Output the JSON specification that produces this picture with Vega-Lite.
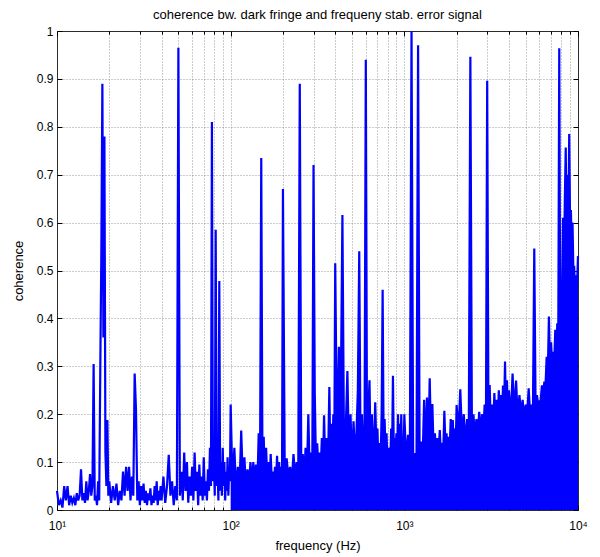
{
  "$schema": "https://vega.github.io/schema/vega-lite/v6.json",
  "width": 521,
  "height": 479,
  "autosize": {"type": "none"},
  "padding": {"left": 57, "top": 31, "right": 22, "bottom": 47},
  "background": "white",
  "config": {"view": {"stroke": "#333", "strokeWidth": 1}},
  "title": {"text": "coherence bw. dark fringe and frequeny stab. error signal", "font": "Liberation Sans", "fontSize": 13, "fontWeight": "normal", "color": "#000", "anchor": "middle", "frame": "group", "offset": 3},
  "data": {"values": [
    {"f":10,"c":0.04},{"f":10.25,"c":0.01},{"f":10.5,"c":0.02},{"f":10.75,"c":0.005},{"f":11,"c":0.05},{"f":11.25,"c":0.02},{"f":11.5,"c":0.05},{"f":11.75,"c":0.01},{"f":12,"c":0.03},{"f":12.25,"c":0.015},{"f":12.5,"c":0.025},{"f":12.75,"c":0.01},{"f":13,"c":0.035},{"f":13.25,"c":0.02},{"f":13.5,"c":0.03},{"f":13.75,"c":0.085},{"f":14,"c":0.02},{"f":14.25,"c":0.035},{"f":14.5,"c":0.015},{"f":14.75,"c":0.06},{"f":15,"c":0.02},{"f":15.25,"c":0.04},{"f":15.5,"c":0.075},{"f":15.75,"c":0.03},{"f":16,"c":0.05},{"f":16.25,"c":0.305},{"f":16.5,"c":0.02},{"f":16.75,"c":0.03},{"f":17,"c":0.01},{"f":17.25,"c":0.06},{"f":17.5,"c":0.02},{"f":17.75,"c":0.29},{"f":18,"c":0.535},{"f":18.25,"c":0.89},{"f":18.5,"c":0.36},{"f":18.75,"c":0.78},{"f":19,"c":0.12},{"f":19.25,"c":0.05},{"f":19.5,"c":0.188},{"f":19.75,"c":0.03},
    {"f":20,"c":0.06},{"f":20.5,"c":0.015},{"f":21,"c":0.05},{"f":21.5,"c":0.02},{"f":22,"c":0.055},{"f":22.5,"c":0.01},{"f":23,"c":0.04},{"f":23.5,"c":0.02},{"f":24,"c":0.08},{"f":24.5,"c":0.03},{"f":25,"c":0.09},{"f":25.5,"c":0.04},{"f":26,"c":0.09},{"f":26.5,"c":0.02},{"f":27,"c":0.07},{"f":27.5,"c":0.03},{"f":28,"c":0.285},{"f":28.5,"c":0.21},{"f":29,"c":0.02},{"f":29.5,"c":0.06},
    {"f":30,"c":0.01},{"f":30.5,"c":0.05},{"f":31,"c":0.02},{"f":31.5,"c":0.055},{"f":32,"c":0.015},{"f":32.5,"c":0.04},{"f":33,"c":0.01},{"f":33.5,"c":0.035},{"f":34,"c":0.02},{"f":34.5,"c":0.045},{"f":35,"c":0.01},{"f":35.5,"c":0.03},{"f":36,"c":0.015},{"f":36.5,"c":0.05},{"f":37,"c":0.02},{"f":37.5,"c":0.06},{"f":38,"c":0.01},{"f":38.5,"c":0.04},{"f":39,"c":0.02},{"f":39.5,"c":0.05},
    {"f":40,"c":0.02},{"f":41,"c":0.07},{"f":42,"c":0.015},{"f":43,"c":0.05},{"f":44,"c":0.115},{"f":45,"c":0.03},{"f":46,"c":0.06},{"f":47,"c":0.01},{"f":48,"c":0.05},{"f":49,"c":0.02},{"f":50,"c":0.965},{"f":51,"c":0.03},{"f":52,"c":0.08},{"f":53,"c":0.02},{"f":54,"c":0.12},{"f":55,"c":0.04},{"f":56,"c":0.1},{"f":57,"c":0.015},{"f":58,"c":0.07},{"f":59,"c":0.03},
    {"f":60,"c":0.09},{"f":61,"c":0.02},{"f":62,"c":0.12},{"f":63,"c":0.04},{"f":64,"c":0.08},{"f":65,"c":0.01},{"f":66,"c":0.095},{"f":67,"c":0.03},{"f":68,"c":0.07},{"f":69,"c":0.02},{"f":70,"c":0.11},{"f":71,"c":0.03},{"f":72,"c":0.06},{"f":73,"c":0.02},{"f":74,"c":0.085},{"f":75,"c":0.04},{"f":76,"c":0.13},{"f":77,"c":0.05},{"f":78,"c":0.81},{"f":79,"c":0.06},
    {"f":80,"c":0.1},{"f":81,"c":0.03},{"f":82,"c":0.585},{"f":83,"c":0.05},{"f":84,"c":0.09},{"f":85,"c":0.02},{"f":86,"c":0.478},{"f":87,"c":0.04},{"f":88,"c":0.1},{"f":89,"c":0.03},{"f":90,"c":0.13},{"f":91,"c":0.05},{"f":92,"c":0.1},{"f":93,"c":0.02},{"f":94,"c":0.08},{"f":95,"c":0.04},{"f":96,"c":0.11},{"f":97,"c":0.03},{"f":98,"c":0.09},{"f":99,"c":0.06},
    {"f":100,"c":0.22},{"f":102.5,"c":0.05},{"f":105,"c":0.13},{"f":107.5,"c":0.04},{"f":110,"c":0.09},{"f":112.5,"c":0.05},{"f":115,"c":0.166},{"f":117.5,"c":0.06},{"f":120,"c":0.11},{"f":122.5,"c":0.045},{"f":125,"c":0.085},{"f":127.5,"c":0.05},{"f":130,"c":0.1},{"f":132.5,"c":0.05},{"f":135,"c":0.1},{"f":137.5,"c":0.06},{"f":140,"c":0.095},{"f":142.5,"c":0.05},{"f":145,"c":0.16},{"f":147.5,"c":0.06},
    {"f":150,"c":0.735},{"f":152.5,"c":0.07},{"f":155,"c":0.153},{"f":157.5,"c":0.05},{"f":160,"c":0.13},{"f":162.5,"c":0.06},{"f":165,"c":0.1},{"f":167.5,"c":0.05},{"f":170,"c":0.117},{"f":172.5,"c":0.06},{"f":175,"c":0.08},{"f":177.5,"c":0.045},{"f":180,"c":0.09},{"f":182.5,"c":0.06},{"f":185,"c":0.113},{"f":187.5,"c":0.05},{"f":190,"c":0.1},{"f":192.5,"c":0.06},{"f":195,"c":0.09},{"f":197.5,"c":0.05},
    {"f":200,"c":0.67},{"f":205,"c":0.06},{"f":210,"c":0.108},{"f":215,"c":0.07},{"f":220,"c":0.09},{"f":225,"c":0.06},{"f":230,"c":0.117},{"f":235,"c":0.07},{"f":240,"c":0.1},{"f":245,"c":0.065},{"f":250,"c":0.89},{"f":255,"c":0.08},{"f":260,"c":0.117},{"f":265,"c":0.07},{"f":270,"c":0.13},{"f":275,"c":0.08},{"f":280,"c":0.2},{"f":285,"c":0.08},{"f":290,"c":0.12},{"f":295,"c":0.07},
    {"f":300,"c":0.72},{"f":305,"c":0.243},{"f":310,"c":0.09},{"f":315,"c":0.139},{"f":320,"c":0.08},{"f":325,"c":0.12},{"f":330,"c":0.085},{"f":335,"c":0.15},{"f":340,"c":0.09},{"f":345,"c":0.198},{"f":350,"c":0.1},{"f":355,"c":0.15},{"f":360,"c":0.09},{"f":365,"c":0.13},{"f":370,"c":0.257},{"f":375,"c":0.1},{"f":380,"c":0.18},{"f":385,"c":0.1},{"f":390,"c":0.2},{"f":395,"c":0.11},
    {"f":400,"c":0.515},{"f":410,"c":0.12},{"f":420,"c":0.341},{"f":430,"c":0.21},{"f":440,"c":0.616},{"f":450,"c":0.1},{"f":460,"c":0.17},{"f":470,"c":0.29},{"f":480,"c":0.11},{"f":490,"c":0.2},{"f":500,"c":0.09},{"f":510,"c":0.185},{"f":520,"c":0.11},{"f":530,"c":0.16},{"f":540,"c":0.25},{"f":550,"c":0.54},{"f":560,"c":0.1},{"f":570,"c":0.2},{"f":580,"c":0.12},{"f":590,"c":0.15},
    {"f":600,"c":0.94},{"f":610,"c":0.12},{"f":620,"c":0.2},{"f":630,"c":0.271},{"f":640,"c":0.11},{"f":650,"c":0.2},{"f":660,"c":0.1},{"f":670,"c":0.15},{"f":680,"c":0.225},{"f":690,"c":0.13},{"f":700,"c":0.17},{"f":710,"c":0.09},{"f":720,"c":0.14},{"f":730,"c":0.1},{"f":740,"c":0.2},{"f":750,"c":0.46},{"f":760,"c":0.13},{"f":770,"c":0.19},{"f":780,"c":0.11},{"f":790,"c":0.16},
    {"f":800,"c":0.09},{"f":810,"c":0.13},{"f":820,"c":0.12},{"f":830,"c":0.1},{"f":840,"c":0.17},{"f":850,"c":0.12},{"f":860,"c":0.28},{"f":870,"c":0.11},{"f":880,"c":0.15},{"f":890,"c":0.1},{"f":900,"c":0.16},{"f":910,"c":0.12},{"f":920,"c":0.2},{"f":930,"c":0.11},{"f":940,"c":0.18},{"f":950,"c":0.1},{"f":960,"c":0.2},{"f":970,"c":0.12},{"f":980,"c":0.15},{"f":990,"c":0.11},
    {"f":1000,"c":0.2},{"f":1025,"c":0.1},{"f":1050,"c":0.157},{"f":1075,"c":0.08},{"f":1100,"c":1.0},{"f":1125,"c":0.073},{"f":1150,"c":0.119},{"f":1175,"c":0.1},{"f":1200,"c":0.97},{"f":1225,"c":0.09},{"f":1250,"c":0.143},{"f":1275,"c":0.11},{"f":1300,"c":0.23},{"f":1325,"c":0.12},{"f":1350,"c":0.235},{"f":1375,"c":0.13},{"f":1400,"c":0.275},{"f":1425,"c":0.14},{"f":1450,"c":0.221},{"f":1475,"c":0.12},
    {"f":1500,"c":0.16},{"f":1525,"c":0.11},{"f":1550,"c":0.15},{"f":1575,"c":0.12},{"f":1600,"c":0.167},{"f":1625,"c":0.11},{"f":1650,"c":0.14},{"f":1675,"c":0.12},{"f":1700,"c":0.207},{"f":1725,"c":0.13},{"f":1750,"c":0.16},{"f":1775,"c":0.12},{"f":1800,"c":0.153},{"f":1825,"c":0.13},{"f":1850,"c":0.19},{"f":1875,"c":0.12},{"f":1900,"c":0.188},{"f":1925,"c":0.14},{"f":1950,"c":0.17},{"f":1975,"c":0.13},
    {"f":2000,"c":0.219},{"f":2050,"c":0.16},{"f":2100,"c":0.252},{"f":2150,"c":0.15},{"f":2200,"c":0.2},{"f":2250,"c":0.14},{"f":2300,"c":0.19},{"f":2350,"c":0.15},{"f":2400,"c":0.946},{"f":2450,"c":0.16},{"f":2500,"c":0.2},{"f":2550,"c":0.15},{"f":2600,"c":0.19},{"f":2650,"c":0.16},{"f":2700,"c":0.205},{"f":2750,"c":0.15},{"f":2800,"c":0.2},{"f":2850,"c":0.16},{"f":2900,"c":0.22},{"f":2950,"c":0.17},
    {"f":3000,"c":0.896},{"f":3050,"c":0.18},{"f":3100,"c":0.261},{"f":3150,"c":0.17},{"f":3200,"c":0.22},{"f":3250,"c":0.18},{"f":3300,"c":0.244},{"f":3350,"c":0.17},{"f":3400,"c":0.23},{"f":3450,"c":0.18},{"f":3500,"c":0.25},{"f":3550,"c":0.19},{"f":3600,"c":0.24},{"f":3650,"c":0.19},{"f":3700,"c":0.26},{"f":3750,"c":0.2},{"f":3800,"c":0.31},{"f":3850,"c":0.19},{"f":3900,"c":0.271},{"f":3950,"c":0.2},
    {"f":4000,"c":0.25},{"f":4100,"c":0.19},{"f":4200,"c":0.285},{"f":4300,"c":0.2},{"f":4400,"c":0.27},{"f":4500,"c":0.19},{"f":4600,"c":0.24},{"f":4700,"c":0.2},{"f":4800,"c":0.23},{"f":4900,"c":0.19},{"f":5000,"c":0.22},{"f":5100,"c":0.2},{"f":5200,"c":0.254},{"f":5300,"c":0.2},{"f":5400,"c":0.22},{"f":5500,"c":0.2},{"f":5600,"c":0.546},{"f":5700,"c":0.21},{"f":5800,"c":0.24},{"f":5900,"c":0.22},
    {"f":6000,"c":0.226},{"f":6100,"c":0.23},{"f":6200,"c":0.26},{"f":6300,"c":0.24},{"f":6400,"c":0.268},{"f":6500,"c":0.26},{"f":6600,"c":0.32},{"f":6700,"c":0.28},{"f":6800,"c":0.404},{"f":6900,"c":0.3},{"f":7000,"c":0.35},{"f":7100,"c":0.3},{"f":7200,"c":0.33},{"f":7300,"c":0.31},{"f":7400,"c":0.376},{"f":7500,"c":0.33},{"f":7600,"c":0.39},{"f":7700,"c":0.36},{"f":7800,"c":0.964},{"f":7900,"c":0.38},
    {"f":8000,"c":0.348},{"f":8100,"c":0.45},{"f":8200,"c":0.61},{"f":8300,"c":0.5},{"f":8400,"c":0.65},{"f":8500,"c":0.757},{"f":8600,"c":0.55},{"f":8700,"c":0.7},{"f":8800,"c":0.6},{"f":8900,"c":0.785},{"f":9000,"c":0.6},{"f":9100,"c":0.626},{"f":9200,"c":0.55},{"f":9300,"c":0.6},{"f":9400,"c":0.5},{"f":9500,"c":0.51},{"f":9600,"c":0.46},{"f":9700,"c":0.49},{"f":9800,"c":0.45},{"f":9900,"c":0.48},{"f":10000,"c":0.53}
  ]},
  "layer": [
    {
      "transform": [{"filter": "datum.f >= 100"}],
      "mark": {"type": "area", "color": "#0000ff", "opacity": 1},
      "encoding": {
        "x": {"field": "f", "type": "quantitative", "scale": {"type": "log", "domain": [10, 10000], "nice": false},
          "axis": {"orient": "top", "values": [10,20,30,40,50,60,70,80,90,100,200,300,400,500,600,700,800,900,1000,2000,3000,4000,5000,6000,7000,8000,9000,10000], "labels": false, "grid": false, "domain": false, "title": null, "tickColor": "#000",
            "tickSize": {"condition": {"test": "datum.value == 10 || datum.value == 100 || datum.value == 1000 || datum.value == 10000", "value": -5}, "value": -3}}},
        "y": {"field": "c", "type": "quantitative", "scale": {"domain": [0, 1], "nice": false},
          "axis": {"orient": "right", "values": [0,0.1,0.2,0.3,0.4,0.5,0.6,0.7,0.8,0.9,1], "labels": false, "grid": false, "domain": false, "title": null, "tickColor": "#000", "tickSize": -5}}
      }
    },
    {
      "mark": {"type": "line", "color": "#0000ff", "strokeWidth": 2.2},
      "encoding": {
        "x": {"field": "f", "type": "quantitative", "scale": {"type": "log", "domain": [10, 10000], "nice": false},
          "axis": {"orient": "bottom", "values": [10,20,30,40,50,60,70,80,90,100,200,300,400,500,600,700,800,900,1000,2000,3000,4000,5000,6000,7000,8000,9000,10000],
            "labelExpr": "datum.value == 10 ? '10¹' : datum.value == 100 ? '10²' : datum.value == 1000 ? '10³' : datum.value == 10000 ? '10⁴' : ''",
            "labelOverlap": false, "labelFlush": false, "labelFont": "Liberation Sans", "labelFontSize": 12, "labelColor": "#000", "labelPadding": 15,
            "grid": true, "gridColor": "#000", "gridOpacity": 0.4, "gridDash": [1, 2], "gridWidth": 1,
            "domain": false, "tickColor": "#000",
            "tickSize": {"condition": {"test": "datum.value == 10 || datum.value == 100 || datum.value == 1000 || datum.value == 10000", "value": -5}, "value": -3},
            "title": "frequency (Hz)", "titleFont": "Liberation Sans", "titleFontSize": 13, "titleFontWeight": "normal", "titleColor": "#000", "titlePadding": 6}},
        "y": {"field": "c", "type": "quantitative", "scale": {"domain": [0, 1], "nice": false},
          "axis": {"orient": "left", "values": [0,0.1,0.2,0.3,0.4,0.5,0.6,0.7,0.8,0.9,1], "format": "~g",
            "labelFont": "Liberation Sans", "labelFontSize": 12, "labelColor": "#000", "labelPadding": 9,
            "grid": true, "gridColor": "#000", "gridOpacity": 0.4, "gridDash": [1, 2], "gridWidth": 1,
            "domain": false, "tickColor": "#000", "tickSize": -5,
            "title": "coherence", "titleFont": "Liberation Sans", "titleFontSize": 13, "titleFontWeight": "normal", "titleColor": "#000", "titlePadding": 11}}
      }
    }
  ],
  "resolve": {"axis": {"x": "independent", "y": "independent"}}
}
